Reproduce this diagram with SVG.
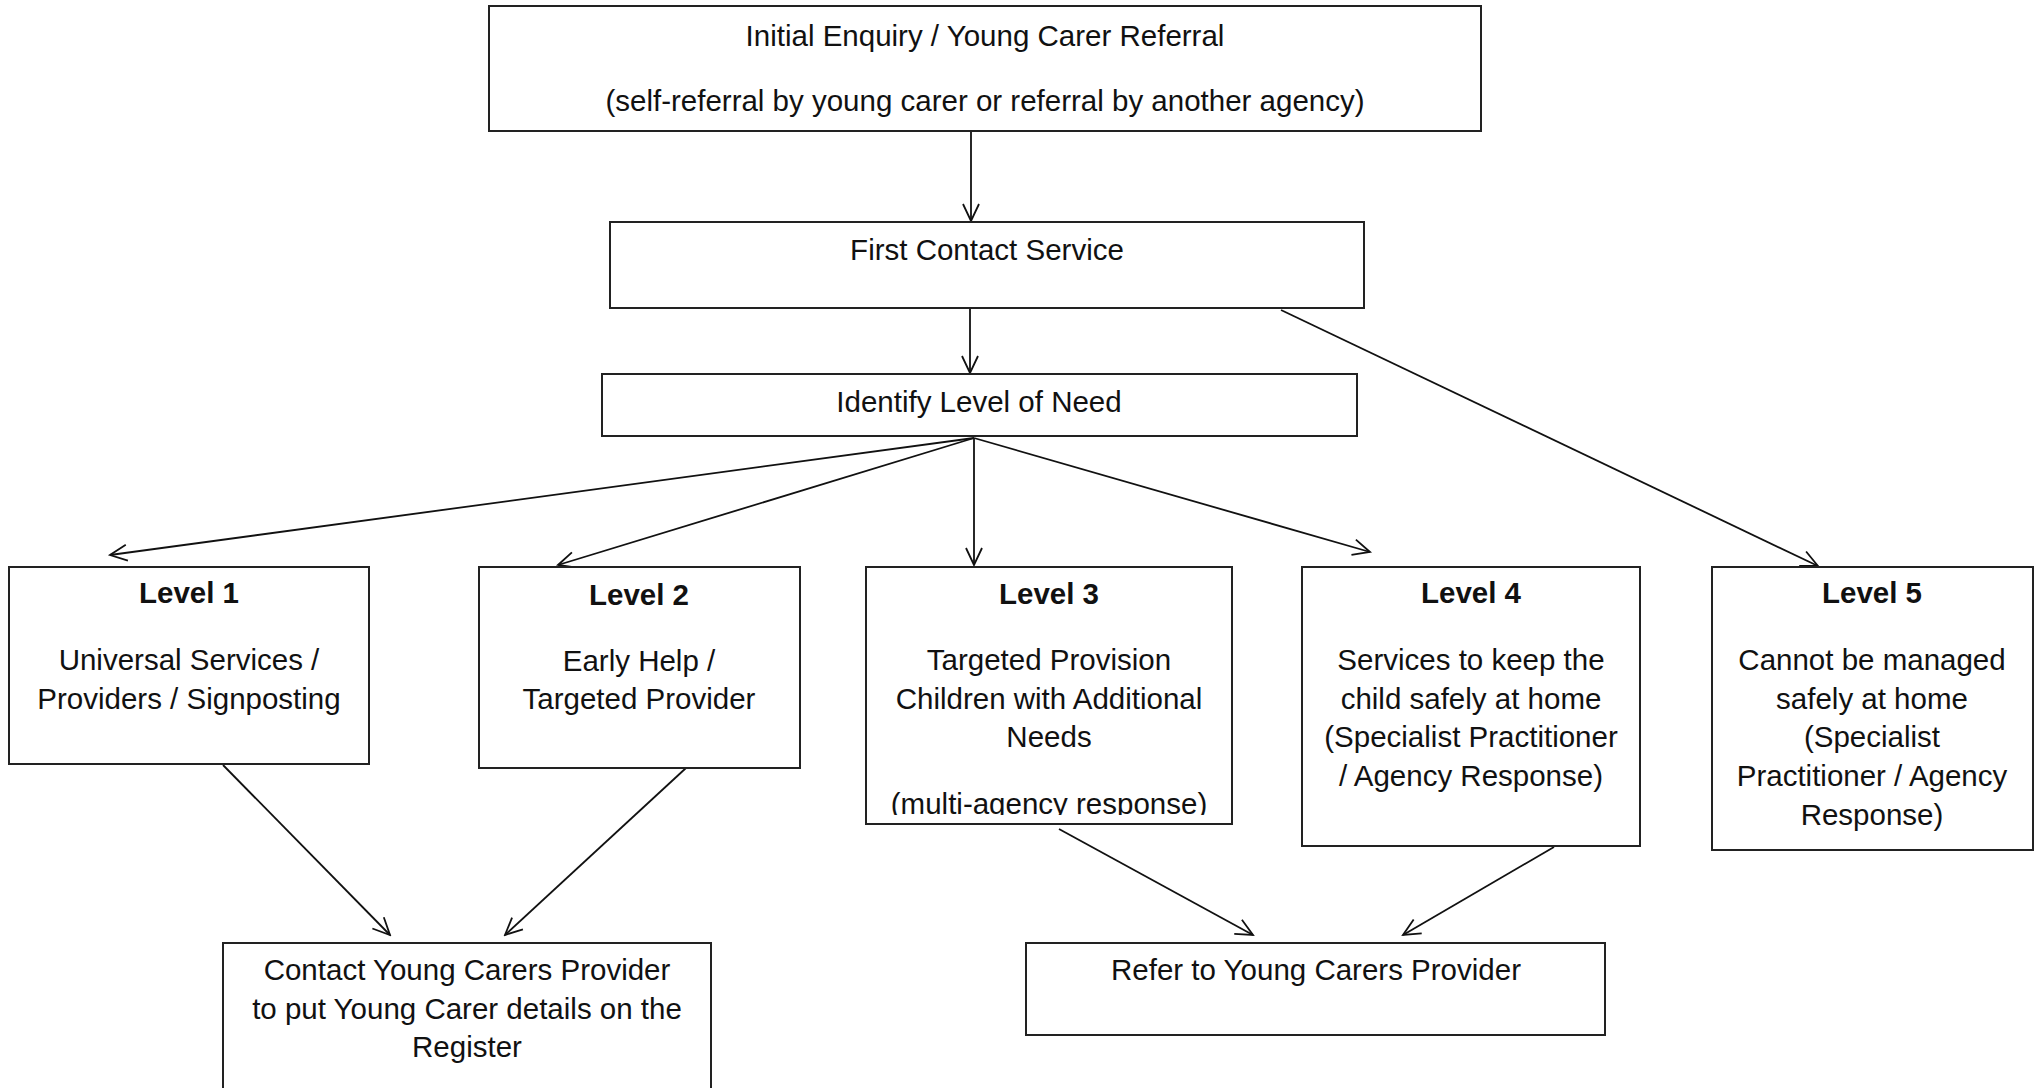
<svg xmlns="http://www.w3.org/2000/svg" width="2035" height="1088" viewBox="0 0 2035 1088">
<style>
.box{fill:#fff;stroke:#222;stroke-width:2}
.t{font-family:"Liberation Sans",Arial,sans-serif;font-size:29.5px;fill:#111;text-anchor:middle}
.b{font-weight:bold}
.c{fill:none;stroke:#111;stroke-width:1.8;marker-end:url(#ah)}
</style>
<defs>
<marker id="ah" markerUnits="userSpaceOnUse" viewBox="-20 -10 22 20" refX="0" refY="0" markerWidth="22" markerHeight="20" orient="auto">
<path d="M-17,-8 L0,0 L-17,8" fill="none" stroke="#111" stroke-width="1.8"/>
</marker>
<clipPath id="clip3"><rect x="866" y="567" width="366" height="248"/></clipPath>
</defs>
<rect width="2035" height="1088" fill="#fff"/>
<g id="connectors">
<line class="c" x1="971" y1="131" x2="971" y2="221"/>
<line class="c" x1="970" y1="308" x2="970" y2="373"/>
<line class="c" x1="974" y1="438" x2="110" y2="555"/>
<line class="c" x1="974" y1="438" x2="558" y2="565"/>
<line class="c" x1="974" y1="438" x2="974" y2="565"/>
<line class="c" x1="974" y1="438" x2="1370" y2="552"/>
<line class="c" x1="1281" y1="310" x2="1818" y2="566"/>
<line class="c" x1="223" y1="765" x2="390" y2="935"/>
<line class="c" x1="686" y1="768" x2="505" y2="935"/>
<line class="c" x1="1059" y1="829" x2="1253" y2="935"/>
<line class="c" x1="1554" y1="847" x2="1403" y2="935"/>
</g>
<g id="initial">
<rect class="box" x="489" y="6" width="992" height="125"/>
<text class="t" x="985" y="46">Initial Enquiry / Young Carer Referral</text>
<text class="t" x="985" y="111">(self-referral by young carer or referral by another agency)</text>
</g>
<g id="first-contact">
<rect class="box" x="610" y="222" width="754" height="86"/>
<text class="t" x="987" y="260">First Contact Service</text>
</g>
<g id="identify">
<rect class="box" x="602" y="374" width="755" height="62"/>
<text class="t" x="979" y="412">Identify Level of Need</text>
</g>
<g id="level1">
<rect class="box" x="9" y="567" width="360" height="197"/>
<text class="t b" x="189" y="603">Level 1</text>
<text class="t" x="189" y="670">Universal Services /</text>
<text class="t" x="189" y="709">Providers / Signposting</text>
</g>
<g id="level2">
<rect class="box" x="479" y="567" width="321" height="201"/>
<text class="t b" x="639" y="605">Level 2</text>
<text class="t" x="639" y="671">Early Help /</text>
<text class="t" x="639" y="709">Targeted Provider</text>
</g>
<g id="level3">
<rect class="box" x="866" y="567" width="366" height="257"/>
<text class="t b" x="1049" y="604">Level 3</text>
<text class="t" x="1049" y="670">Targeted Provision</text>
<text class="t" x="1049" y="709">Children with Additional</text>
<text class="t" x="1049" y="747">Needs</text>
<text class="t" x="1049" y="814" clip-path="url(#clip3)">(multi-agency response)</text>
</g>
<g id="level4">
<rect class="box" x="1302" y="567" width="338" height="279"/>
<text class="t b" x="1471" y="603">Level 4</text>
<text class="t" x="1471" y="670">Services to keep the</text>
<text class="t" x="1471" y="709">child safely at home</text>
<text class="t" x="1471" y="747">(Specialist Practitioner</text>
<text class="t" x="1471" y="786">/ Agency Response)</text>
</g>
<g id="level5">
<rect class="box" x="1712" y="567" width="321" height="283"/>
<text class="t b" x="1872" y="603">Level 5</text>
<text class="t" x="1872" y="670">Cannot be managed</text>
<text class="t" x="1872" y="709">safely at home</text>
<text class="t" x="1872" y="747">(Specialist</text>
<text class="t" x="1872" y="786">Practitioner / Agency</text>
<text class="t" x="1872" y="825">Response)</text>
</g>
<g id="contact">
<rect class="box" x="223" y="943" width="488" height="160"/>
<text class="t" x="467" y="980">Contact Young Carers Provider</text>
<text class="t" x="467" y="1019">to put Young Carer details on the</text>
<text class="t" x="467" y="1057">Register</text>
</g>
<g id="refer">
<rect class="box" x="1026" y="943" width="579" height="92"/>
<text class="t" x="1316" y="980">Refer to Young Carers Provider</text>
</g>
</svg>
